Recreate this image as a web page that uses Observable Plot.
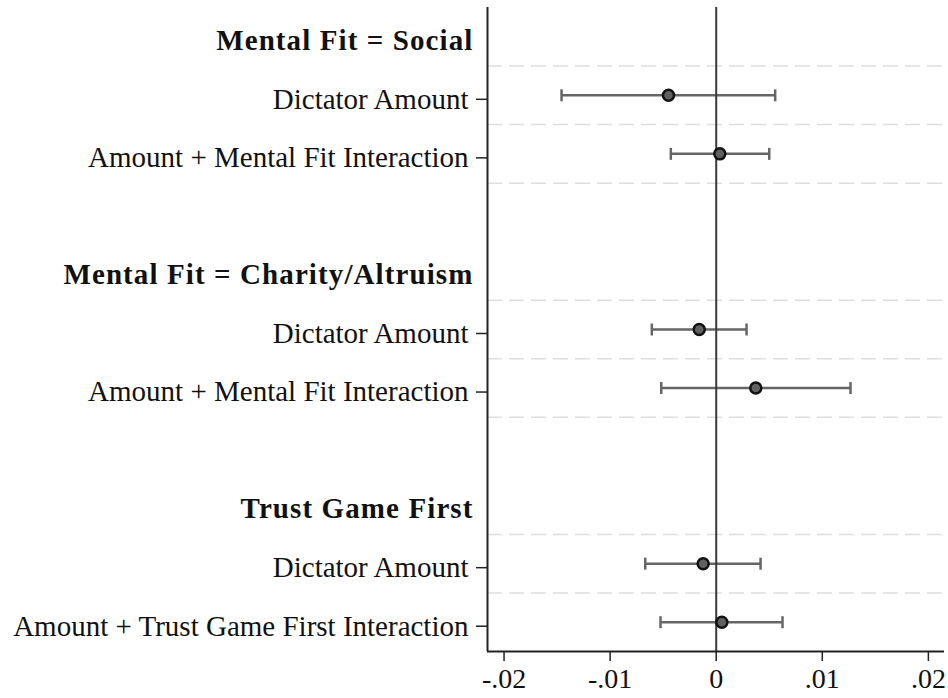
<!DOCTYPE html>
<html>
<head>
<meta charset="utf-8">
<script src="https://cdn.jsdelivr.net/npm/d3@7"></script>
<script src="https://cdn.jsdelivr.net/npm/@observablehq/plot@0.6"></script>
<style>
  html, body { margin: 0; padding: 0; background: white; }
</style>
</head>
<body>
<div id="chart"></div>
<script>
// ---- data ----
const headerLabels = ["Mental Fit = Social", "Mental Fit = Charity/Altruism", "Trust Game First"];
const headerRows = [0, 4, 8];
const coefLabels = [
  "Dictator Amount",
  "Amount + Mental Fit Interaction",
  "Dictator Amount",
  "Amount + Mental Fit Interaction",
  "Dictator Amount",
  "Amount + Trust Game First Interaction"
];
const coefRows = [1, 2, 5, 6, 9, 10];
const estimates = [-0.0045, 0.00034, -0.0016, 0.00373, -0.00123, 0.00053];
const lowerCI = [-0.01458, -0.00428, -0.00607, -0.00518, -0.00669, -0.00525];
const upperCI = [0.00556, 0.0050, 0.00286, 0.01266, 0.00418, 0.00625];
const gridRows = [0.5, 1.5, 2.5, 4.5, 5.5, 6.5, 8.5, 9.5];
const xTicks = [-0.02, -0.01, 0, 0.01, 0.02];
const xTickLabels = ["-.02", "-.01", "0", ".01", ".02"];
const xDomain = [-0.02156, 0.02152];
const yDomain = [-0.5, 10.5];

const coefs = coefRows.map((row, i) => ({
  row, label: coefLabels[i], est: estimates[i], lo: lowerCI[i], hi: upperCI[i]
}));
const ends = coefs.flatMap(d => [{row: d.row, x: d.lo}, {row: d.row, x: d.hi}]);

const capSymbol = {
  draw(context, size) {
    const r = Math.sqrt(size / Math.PI);
    context.moveTo(0, -r);
    context.lineTo(0, r);
  }
};

const serif = "'Liberation Serif', 'Times New Roman', serif";

const chart = Plot.plot({
  width: 948,
  height: 698,
  marginLeft: 487,
  marginRight: 4,
  marginTop: 7,
  marginBottom: 47,
  style: {fontFamily: serif, fontSize: "28px", background: "white", color: "#111"},
  x: {domain: xDomain},
  y: {domain: yDomain, reverse: true},
  marks: [
    Plot.ruleY(gridRows, {stroke: "#dedede", strokeWidth: 1.5, strokeDasharray: "15,7"}),
    Plot.ruleY(coefs, {y: "row", x1: "lo", x2: "hi", stroke: "#666", strokeWidth: 2.5}),
    Plot.dot(ends, {x: "x", y: "row", symbol: capSymbol, r: 6, stroke: "#666", strokeWidth: 2.5, fill: "none"}),
    Plot.ruleX([0], {stroke: "#3a3a3a", strokeWidth: 2}),
    Plot.ruleX([xDomain[0]], {stroke: "#222", strokeWidth: 2}),
    Plot.ruleY([yDomain[1]], {stroke: "#222", strokeWidth: 2}),
    Plot.dot(coefs, {x: "est", y: "row", r: 5.5, fill: "#606060", stroke: "#111", strokeWidth: 2.5}),
    Plot.axisY({
      ticks: coefRows,
      tickFormat: (d) => coefLabels[coefRows.indexOf(d)],
      tickSize: 11,
      tickPadding: 8,
      fontSize: 29,
      dy: 4,
      stroke: "#222",
      strokeWidth: 1.5,
      label: null
    }),
    Plot.axisY({
      ticks: headerRows,
      tickFormat: (d) => headerLabels[headerRows.indexOf(d)],
      tickSize: 0,
      tickPadding: 14,
      fontSize: 29,
      fontWeight: "bold",
      dy: 4,
      label: null
    }),
    Plot.axisX({
      ticks: xTicks,
      tickFormat: (d) => xTickLabels[xTicks.indexOf(d)],
      tickSize: 10,
      tickPadding: 7,
      fontSize: 28,
      stroke: "#222",
      strokeWidth: 1.5,
      label: null
    })
  ]
});
// widen the bold group headings a little, like the extended bold serif of the original
d3.select(chart).selectAll("g[font-weight='bold'] text").style("letter-spacing", "1.1px");
document.getElementById("chart").appendChild(chart);
</script>
</body>
</html>
